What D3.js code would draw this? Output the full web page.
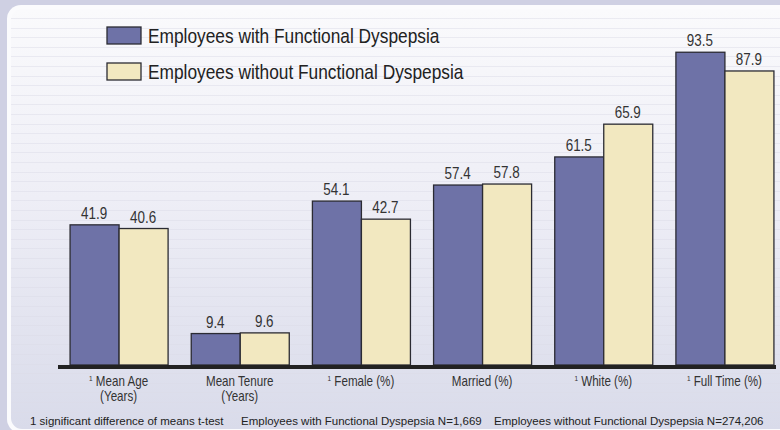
<!DOCTYPE html>
<html>
<head>
<meta charset="utf-8">
<script src="https://cdn.jsdelivr.net/npm/d3@7"></script>
<style>
  body { margin: 0; background: #cfd0e3; }
  svg { display: block; }
  text { font-family: "Liberation Sans", Arial, sans-serif; }
</style>
</head>
<body>
<div id="chart-area"></div>
<script>
var categories = ["Mean Age", "Mean Tenure", "Female (%)", "Married (%)", "White (%)", "Full Time (%)"];
var subLabels = ["(Years)", "(Years)", "", "", "", ""];
var significant = [true, false, true, false, true, true];
var seriesNames = ["Employees with Functional Dyspepsia", "Employees without Functional Dyspepsia"];
// printed values
var withFD = [41.9, 9.4, 54.1, 57.4, 61.5, 93.5];
var withoutFD = [40.6, 9.6, 42.7, 57.8, 65.9, 87.9];
// bar heights as drawn in the original (it is not to scale)
var barWith = [41.9, 9.4, 49.0, 53.8, 62.2, 93.5];
var barWithout = [40.8, 9.6, 43.6, 54.1, 72.0, 87.9];
var footnotes = ["1 significant difference of means t-test",
                 "Employees with Functional Dyspepsia N=1,669",
                 "Employees without Functional Dyspepsia N=274,206"];

var width = 780, height = 430;
var colors = ["#6e72a7", "#f2e8c0"];

var svg = d3.select("#chart-area").append("svg")
    .attr("width", width)
    .attr("height", height);

// panel background
var defs = svg.append("defs");
var grad = defs.append("linearGradient").attr("id", "panelGrad")
    .attr("x1", 0).attr("y1", 0).attr("x2", 0).attr("y2", 1);
grad.append("stop").attr("offset", "0%").attr("stop-color", "#fafafc");
grad.append("stop").attr("offset", "45%").attr("stop-color", "#eeeef6");
grad.append("stop").attr("offset", "100%").attr("stop-color", "#d9dbea");

svg.append("rect")
    .attr("x", 7).attr("y", 5)
    .attr("width", 800).attr("height", 428)
    .attr("rx", 14)
    .attr("fill", "#fbfbfd");
svg.append("rect")
    .attr("x", 11).attr("y", 9)
    .attr("width", 800).attr("height", 420)
    .attr("rx", 11)
    .attr("fill", "url(#panelGrad)");

// faint stripes
svg.append("g").selectAll("line")
    .data(d3.range(18, 420, 9.6))
    .enter().append("line")
    .attr("x1", 11).attr("x2", width)
    .attr("y1", function(d) { return Math.round(d) + 0.5; })
    .attr("y2", function(d) { return Math.round(d) + 0.5; })
    .attr("stroke", "#dcdce8")
    .attr("stroke-opacity", 0.5);

// scales
var x0 = d3.scaleBand()
    .domain(categories)
    .range([58, 785])
    .paddingInner(0.191)
    .paddingOuter(0.0955);

var x1 = d3.scaleBand()
    .domain([0, 1])
    .range([0, x0.bandwidth()]);

var y = d3.scaleLinear()
    .domain([0, 100])
    .range([365, 30.5]);

var rows = categories.map(function(c, i) {
    return {cat: c, bars: [barWith[i], barWithout[i]], vals: [withFD[i], withoutFD[i]]};
});

function cells(d) {
    return d.bars.map(function(h, k) { return {k: k, h: h, v: d.vals[k]}; });
}

var groups = svg.append("g").selectAll("g")
    .data(rows)
    .enter().append("g")
    .attr("transform", function(d) { return "translate(" + x0(d.cat) + ",0)"; });

groups.selectAll("rect")
    .data(cells)
    .enter().append("rect")
    .attr("x", function(d) { return x1(d.k) + 0.5; })
    .attr("y", function(d) { return y(d.h); })
    .attr("width", x1.bandwidth())
    .attr("height", function(d) { return y(0) - y(d.h); })
    .attr("fill", function(d) { return colors[d.k]; })
    .attr("stroke", "#2b2b33")
    .attr("stroke-width", 1.3);

// value labels, squeezed to look like a condensed face
groups.selectAll("text.val")
    .data(cells)
    .enter().append("text")
    .attr("class", "val")
    .attr("transform", function(d) {
        return "translate(" + (x1(d.k) + x1.bandwidth() / 2) + "," + (y(d.h) - 6) + ") scale(0.84,1)";
    })
    .attr("text-anchor", "middle")
    .attr("font-size", 16)
    .attr("fill", "#333")
    .text(function(d) { return d.v.toFixed(1); });

// baseline
svg.append("rect")
    .attr("x", 58).attr("y", 365)
    .attr("width", 718)
    .attr("height", 4)
    .attr("fill", "#222");

// category labels
var labels = svg.append("g").selectAll("text")
    .data(categories)
    .enter().append("text")
    .attr("transform", function(d) {
        return "translate(" + (x0(d) + x0.bandwidth() / 2) + ",386) scale(0.8,1)";
    })
    .attr("text-anchor", "middle")
    .attr("font-size", 14.5)
    .attr("fill", "#333");

labels.each(function(d, i) {
    var t = d3.select(this);
    if (significant[i]) {
        t.append("tspan").attr("font-size", 8).attr("dy", -5).text("1");
        t.append("tspan").attr("dy", 5).text(" " + d);
    } else {
        t.append("tspan").text(d);
    }
    if (subLabels[i]) {
        t.append("tspan")
            .attr("x", 0)
            .attr("dy", 15)
            .text(subLabels[i]);
    }
});

// legend
var legend = svg.append("g").selectAll("g")
    .data(seriesNames)
    .enter().append("g")
    .attr("transform", function(d, i) { return "translate(107," + (27 + i * 36) + ")"; });

legend.append("rect")
    .attr("width", 34).attr("height", 17)
    .attr("fill", function(d, i) { return colors[i]; })
    .attr("stroke", "#2b2b33")
    .attr("stroke-width", 1.3);

legend.append("text")
    .attr("transform", "translate(41,16) scale(0.866,1)")
    .attr("font-size", 20)
    .attr("fill", "#222")
    .text(function(d) { return d; });

// footnote
var footX = [30, 241, 494];
svg.append("g").selectAll("text")
    .data(footnotes)
    .enter().append("text")
    .attr("x", function(d, i) { return footX[i]; })
    .attr("y", 425)
    .attr("font-size", 11.5)
    .attr("fill", "#222")
    .text(function(d) { return d; });
</script>
</body>
</html>
